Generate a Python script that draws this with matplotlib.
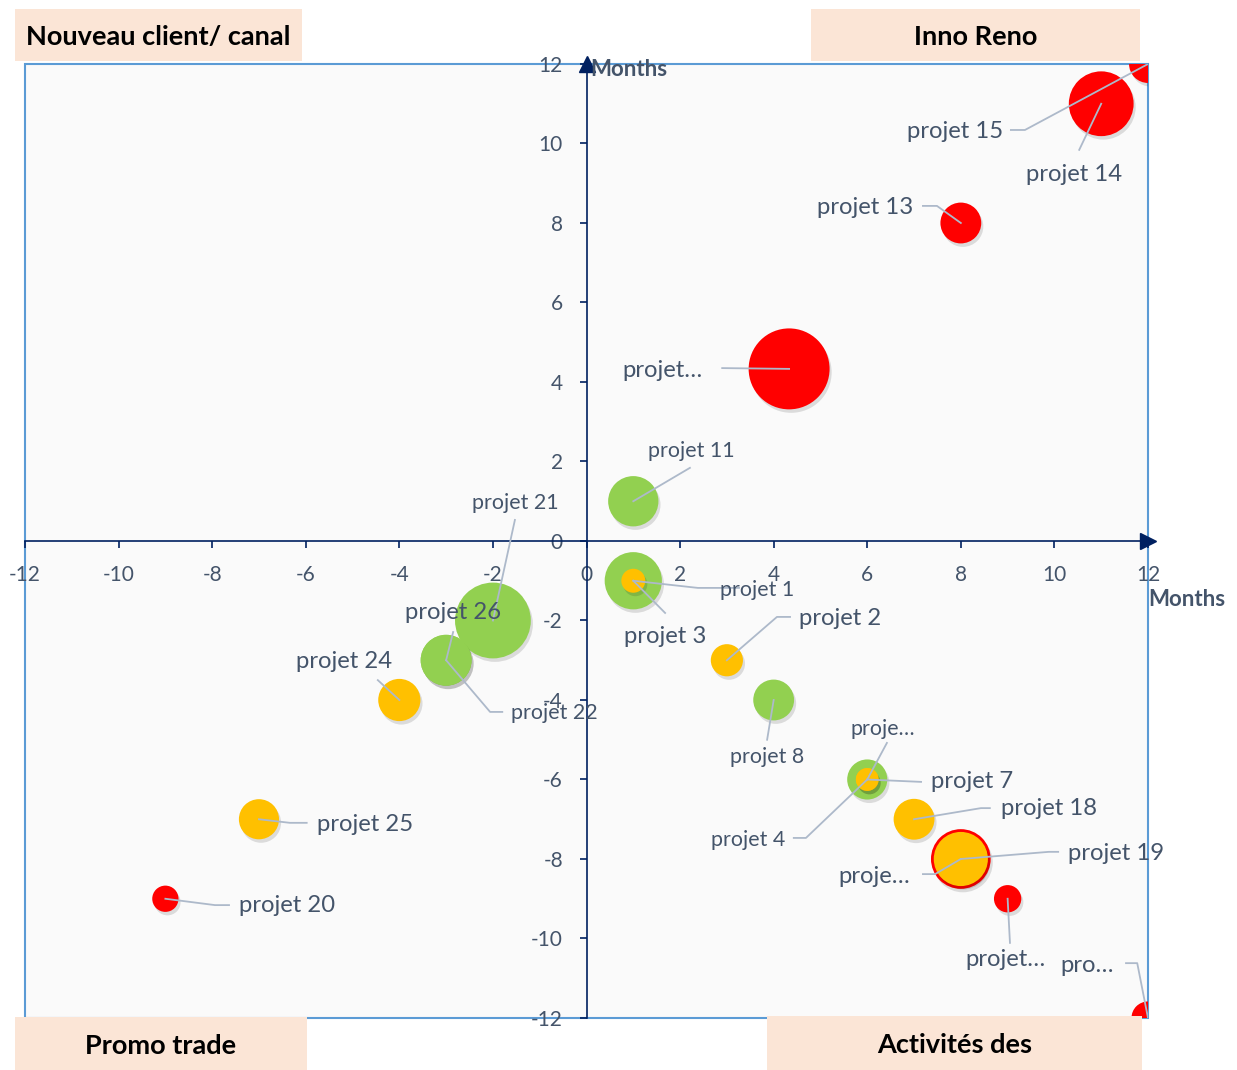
import matplotlib
matplotlib.use("Agg")
import matplotlib.pyplot as plt
import matplotlib.patheffects as pe
from matplotlib.patches import Rectangle

plt.rcParams['font.family'] = ['Lato', 'DejaVu Sans']
plt.rcParams['axes.unicode_minus'] = False

# projects: position (months), bubble size, status colour
labels = ["projet 3", "projet 1", "projet 2", "projet 8", "projet 4", "proje\u2026", "projet 7",
          "projet 18", "proje\u2026", "projet 19", "projet\u2026", "pro\u2026",
          "projet 13", "projet 14", "projet 15", "projet\u2026", "projet 11",
          "projet 21", "projet 26", "projet 22", "projet 24", "projet 25", "projet 20"]
x_vals = [1, 1, 3, 4, 6, 6, 6, 7, 8, 8, 9, 12, 8, 11, 12, 4.33, 1, -2, -3, -3, -4, -7, -9]
y_vals = [-1, -1, -3, -4, -6, -6, -6, -7, -8, -8, -9, -12, 8, 11, 12, 4.33, 1, -2, -3, -3, -4, -7, -9]
sizes = [5.7, 1.0, 1.8, 2.9, 2.8, 0.9, 0.9, 2.9, 6.2, 5.1, 1.3, 1.9,
         2.9, 7.3, 2.5, 11.4, 4.4, 10.0, 4.5, 4.5, 3.1, 2.8, 1.2]
status = ["G", "O", "O", "G", "G", "O", "O", "O", "R", "O", "R", "R",
          "R", "R", "R", "R", "G", "G", "G", "G", "O", "O", "R"]

ticks = list(range(-12, 13, 2))
quadrants = ["Nouveau client/ canal", "Inno Reno", "Promo trade", "Activit\u00e9s des"]

palette = {"G": "#92D050", "O": "#FFC000", "R": "#FF0000"}
txt_col = "#44546A"
lead_col = "#ADB9CA"
navy = "#002060"
BIG, SMALL = 17.2, 15.4

# label placement: text centre, font size, leader path towards the bubble
label_layout = [
    ((1.68, -2.39), BIG, [(1.68, -1.81)]),
    ((3.64, -1.23), SMALL, [(3.26, -1.18), (2.38, -1.18)]),
    ((5.42, -1.94), BIG, [(4.35, -1.91), (4.07, -1.91)]),
    ((3.86, -5.43), SMALL, [(3.86, -5.0)]),
    ((3.45, -7.52), SMALL, [(4.43, -7.47), (4.69, -7.47)]),
    ((6.33, -4.73), SMALL, [(6.42, -5.08)]),
    ((8.24, -6.06), BIG, [(7.15, -6.06)]),
    ((9.88, -6.74), BIG, [(8.62, -6.72), (8.43, -6.72)]),
    ((6.16, -8.45), BIG, [(7.19, -8.38), (7.45, -8.38)]),
    ((11.32, -7.87), BIG, [(10.08, -7.82), (9.88, -7.82)]),
    ((8.96, -10.54), BIG, [(9.05, -10.11)]),
    ((10.69, -10.67), BIG, [(11.53, -10.62), (11.77, -10.62)]),
    ((5.95, 8.38), BIG, [(7.19, 8.43), (7.49, 8.43)]),
    ((10.42, 9.21), BIG, [(10.53, 9.84)]),
    ((7.87, 10.31), BIG, [(9.07, 10.34), (9.37, 10.34)]),
    ((1.63, 4.30), BIG, [(2.90, 4.35)]),
    ((2.23, 2.26), SMALL, [(2.21, 1.84)]),
    ((-1.53, 0.96), SMALL, [(-1.53, 0.53)]),
    ((-2.85, -1.81), BIG, [(-2.85, -2.29)]),
    ((-0.69, -4.33), SMALL, [(-1.80, -4.30), (-2.06, -4.30)]),
    ((-5.18, -3.04), BIG, [(-4.46, -3.50)]),
    ((-4.73, -7.12), BIG, [(-5.98, -7.09), (-6.34, -7.09)]),
    ((-6.40, -9.18), BIG, [(-7.64, -9.16), (-7.94, -9.16)]),
]

W, H = 1237, 1070
fig = plt.figure(figsize=(W / 100, H / 100), dpi=100)
ax = fig.add_axes([25 / W, 1 - 1018 / H, (1148 - 25) / W, (1018 - 64) / H])
ax.set_facecolor("#FAFAFA")
ax.set_xlim(-12, 12)
ax.set_ylim(-12, 12)

# axes crossing at zero
for side in ("top", "right"):
    ax.spines[side].set_visible(False)
for side in ("left", "bottom"):
    ax.spines[side].set_position(("data", 0))
    ax.spines[side].set_color(navy)
    ax.spines[side].set_linewidth(1.2)
ax.set_xticks(ticks)
ax.set_yticks(ticks)
ax.tick_params(axis="x", direction="out", length=5, width=1.2, color=navy,
               labelsize=15, labelcolor=txt_col, pad=12)
ax.tick_params(axis="y", direction="out", length=5, width=1.2, color=navy,
               labelsize=15, labelcolor=txt_col, pad=12)
ax.plot([12], [0], marker=">", markersize=12, color=navy, clip_on=False, zorder=6)
ax.plot([0], [12], marker="^", markersize=12, color=navy, clip_on=False, zorder=6)

# plot-area frame
ax.add_patch(Rectangle((0, 0), 1, 1, transform=ax.transAxes, fill=False,
                       edgecolor="#5B9BD5", linewidth=1.5, clip_on=False, zorder=1))

# bubbles, drawn one by one so overlaps follow the series order
shadow = [pe.SimplePatchShadow(offset=(1.5, -2.5), shadow_rgbFace="black", alpha=0.12), pe.Normal()]
for i in range(len(labels)):
    ax.scatter(x_vals[i], y_vals[i], s=298 * sizes[i], color=palette[status[i]],
               linewidths=0, zorder=3 + i * 0.01, path_effects=shadow)

# data labels with leader lines
for i, (pos, fs, path) in enumerate(label_layout):
    pts = path + [(x_vals[i], y_vals[i])]
    ax.plot([p[0] for p in pts], [p[1] for p in pts], color=lead_col, lw=1.3, zorder=4)
    ax.text(pos[0], pos[1], labels[i], fontsize=fs, color=txt_col,
            ha="center", va="center", zorder=5)

# axis titles
ax.text(0.08, 11.85, "Months", fontsize=16, fontweight="bold", color=txt_col,
        ha="left", va="center", zorder=6, clip_on=False)
ax.text(1.0, -1.48, "Months", fontsize=16, fontweight="bold", color=txt_col,
        ha="left", va="center", zorder=6, clip_on=False, transform=ax.get_yaxis_transform())

# quadrant title boxes
boxes = [(15, 9, 302, 61), (811, 9, 1140, 61), (15, 1017, 307, 1070), (767, 1016, 1142, 1070)]
for name, (x0, y0, x1, y1) in zip(quadrants, boxes):
    fig.add_artist(Rectangle((x0 / W, 1 - y1 / H), (x1 - x0) / W, (y1 - y0) / H,
                             transform=fig.transFigure, facecolor="#FBE5D6",
                             edgecolor="none", zorder=10))
    fig.text((x0 + x1) / 2 / W, 1 - ((y0 + y1) / 2 + 2) / H, name, fontsize=19.5,
             fontweight="bold", color="black", ha="center", va="center", zorder=11)

fig.savefig("out.png", dpi=100)
